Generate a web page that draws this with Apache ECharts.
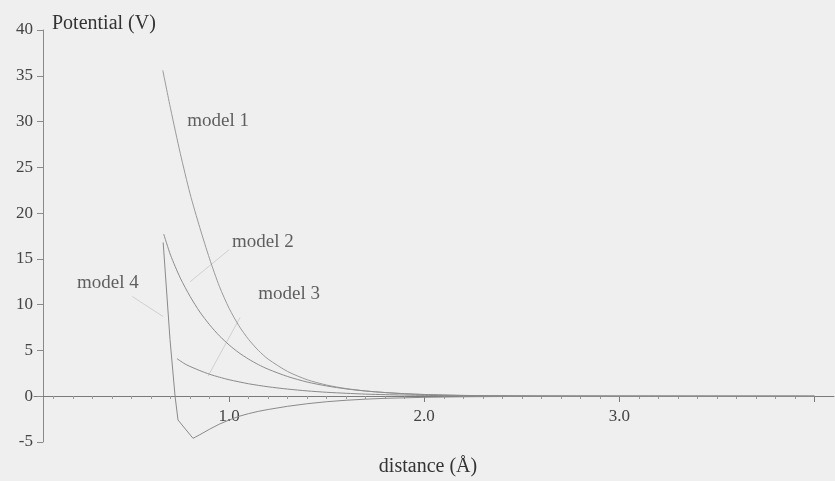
<!DOCTYPE html>
<html><head><meta charset="utf-8">
<script src="https://cdn.jsdelivr.net/npm/echarts@6/dist/echarts.min.js"></script>
<style>html,body{margin:0;padding:0;background:#efefef}#c{width:835px;height:481px}</style>
</head><body><div id="c"></div>
<script>
// distance (Å) vs potential (V)
const model1 = [[0.66,35.6],[0.70,31.4],[0.75,26.5],[0.80,22.1],[0.85,18.4],[0.90,15.0],[0.95,12.0],[1.0,9.6],[1.05,7.7],[1.1,6.2],[1.15,5.0],[1.2,4.05],[1.3,2.7],[1.4,1.8],[1.5,1.22],[1.6,0.83],[1.7,0.57],[1.8,0.4],[1.9,0.27],[2.0,0.18],[2.2,0.08],[2.5,0.03],[3.0,0.01],[4.0,0]];
const model2 = [[0.665,17.7],[0.70,15.4],[0.75,12.9],[0.80,10.9],[0.85,9.2],[0.90,7.8],[0.95,6.6],[1.0,5.6],[1.05,4.75],[1.1,4.05],[1.15,3.45],[1.2,2.95],[1.3,2.15],[1.4,1.55],[1.5,1.12],[1.6,0.8],[1.7,0.57],[1.8,0.4],[1.9,0.28],[2.0,0.19],[2.2,0.09],[2.5,0.03],[3.0,0.01],[4.0,0]];
const model3 = [[0.733,4.1],[0.78,3.45],[0.85,2.8],[0.9,2.4],[0.95,2.08],[1.0,1.8],[1.1,1.36],[1.2,1.03],[1.3,0.78],[1.4,0.58],[1.5,0.43],[1.6,0.32],[1.7,0.23],[1.8,0.17],[2.0,0.09],[2.2,0.05],[2.5,0.02],[3.0,0],[4.0,0]];
const model4 = [[0.662,16.8],[0.697,6.2],[0.723,0],[0.738,-2.6],[0.815,-4.6],[0.85,-4.2],[0.9,-3.6],[0.95,-3.05],[1.0,-2.6],[1.05,-2.2],[1.1,-1.9],[1.15,-1.65],[1.2,-1.45],[1.3,-1.1],[1.4,-0.82],[1.5,-0.6],[1.6,-0.44],[1.7,-0.32],[1.8,-0.23],[2.0,-0.12],[2.2,-0.06],[2.5,-0.02],[3.0,0],[4.0,0]];
const labelNames = ['model 1','model 2','model 3','model 4'];
const labelPoints = [[0.785,30.1],[1.015,16.8],[1.149,11.2],[0.22,12.4]];
const leader2 = [[1.0,16.0],[0.80,12.5]];
const leader3 = [[1.056,8.6],[0.892,2.2]];
const leader4 = [[0.503,10.9],[0.662,8.7]];
const yTicks = [-5,0,5,10,15,20,25,30,35,40];
const xTickValues = [1,2,3,4];
const xTickLabels = {1:'1.0',2:'2.0',3:'3.0'};

const FONT = 'Liberation Serif';
const chart = echarts.init(document.getElementById('c'));
const curve = (name, data, color, smooth) => ({
  name, type:'line', data, showSymbol:false, smooth,
  lineStyle:{color, width:1}, silent:true, z:3
});
const leader = (data) => ({
  type:'line', data, showSymbol:false, lineStyle:{color:'#d0d0d0', width:1}, silent:true, z:2
});
chart.setOption({
  backgroundColor:'#efefef',
  animation:false,
  grid:{left:34, right:1, top:30, bottom:39, containLabel:false, outerBoundsMode:'none'},
  xAxis:{
    type:'value', min:0, max:4.1, interval:1, offset:-46,
    name:'distance (Å)', nameLocation:'middle', nameGap:61,
    nameTextStyle:{fontFamily:FONT, fontSize:20, color:'#333', padding:[0,12,0,0]},
    axisLine:{onZero:false, lineStyle:{color:'#7a7a7a', width:1}},
    axisTick:{length:6, lineStyle:{color:'#7a7a7a'}, customValues:xTickValues},
    minorTick:{show:true, splitNumber:10, length:3, lineStyle:{color:'#999'}},
    axisLabel:{fontFamily:FONT, fontSize:17, color:'#444', margin:12,
      customValues:[1,2,3], formatter:v => xTickLabels[Math.round(v)] || ''},
    splitLine:{show:false}
  },
  yAxis:{
    type:'value', min:yTicks[0], max:yTicks[yTicks.length-1], interval:5, offset:-9,
    name:'Potential (V)', nameLocation:'end', nameGap:-4,
    nameTextStyle:{fontFamily:FONT, fontSize:20, color:'#333', align:'left', verticalAlign:'bottom', padding:[0,0,0,9]},
    axisLine:{show:true, onZero:false, lineStyle:{color:'#8a8a8a', width:1}},
    axisTick:{show:true, length:6, lineStyle:{color:'#8a8a8a'}},
    axisLabel:{fontFamily:FONT, fontSize:17, color:'#444', margin:10},
    splitLine:{show:false}
  },
  series:[
    curve('model 1', model1, '#9a9a9a', 0.25),
    curve('model 2', model2, '#8c8c8c', 0.25),
    curve('model 3', model3, '#8a8a8a', 0.25),
    curve('model 4', model4, '#8a8a8a', false),
    leader(leader2), leader(leader3), leader(leader4),
    {
      type:'scatter', symbolSize:0, silent:true, z:5,
      data: labelPoints.map((p,i)=>({value:p, name:labelNames[i]})),
      label:{show:true, position:'right', distance:0, formatter:p=>p.name,
        fontFamily:FONT, fontSize:19, color:'#3a3a3a'}
    }
  ]
});
</script></body></html>
